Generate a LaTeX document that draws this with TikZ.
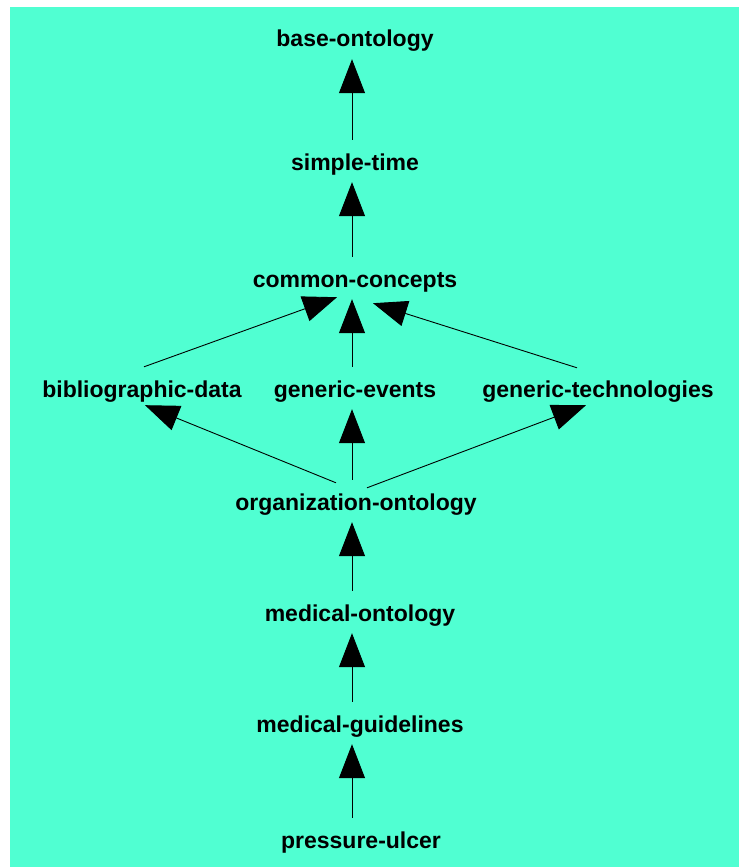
\documentclass[tikz,border=0pt]{standalone}
\usepackage{fontspec}
\setmainfont{Liberation Sans}
\usetikzlibrary{arrows.meta}
\definecolor{bgaqua}{RGB}{80,255,210}

\begin{document}
\begin{tikzpicture}[x=1pt,y=-1pt,
    onto/.style={anchor=base,inner sep=0pt,text height=30pt,text depth=12pt,
        font=\bfseries\fontsize{23}{28}\selectfont},
    isa/.style={line width=0.9pt,-{Triangle[length=34pt,width=26pt]}}]

    \useasboundingbox (0,0) rectangle (739,867);
    \fill[bgaqua] (10,7) rectangle (739,867);
    \coordinate (spine) at (352,0);

    \node[onto] (base) at (355,47) {base-ontology};
    \node[onto] (simple) at (355,170) {simple-time};
    \node[onto] (common) at (355,287) {common-concepts};
    \node[onto] (biblio) at (142,397) {bibliographic-data};
    \node[onto] (events) at (355,397) {generic-events};
    \node[onto] (techno) at (598,397) {generic-technologies};
    \node[onto] (orga) at (356,510) {organization-ontology};
    \node[onto] (medonto) at (360,621) {medical-ontology};
    \node[onto] (medguide) at (360,732) {medical-guidelines};
    \node[onto] (ulcer) at (361,848) {pressure-ulcer};

    \draw[isa] (simple.north -| spine) -- (base.south -| spine);
    \draw[isa] (common.north -| spine) -- (simple.south -| spine);
    \draw[isa] (events.north -| spine) -- (common.south -| spine);
    \draw[isa] ([xshift=2pt]biblio.north) -- ([xshift=-18pt,yshift=2pt]common.south);
    \draw[isa] ([xshift=-21pt,yshift=-1pt]techno.north) -- ([xshift=18pt,yshift=-4pt]common.south);
    \draw[isa] (orga.north -| spine) -- (events.south -| spine);
    \draw[isa] ([xshift=-20pt,yshift=-3pt]orga.north) -- ([xshift=3pt,yshift=4pt]biblio.south);
    \draw[isa] ([xshift=11pt,yshift=-8pt]orga.north) -- ([xshift=-12pt,yshift=4pt]techno.south);
    \draw[isa] (medonto.north -| spine) -- (orga.south -| spine);
    \draw[isa] (medguide.north -| spine) -- (medonto.south -| spine);
    \draw[isa] (ulcer.north -| spine) -- (medguide.south -| spine);
\end{tikzpicture}
\end{document}
